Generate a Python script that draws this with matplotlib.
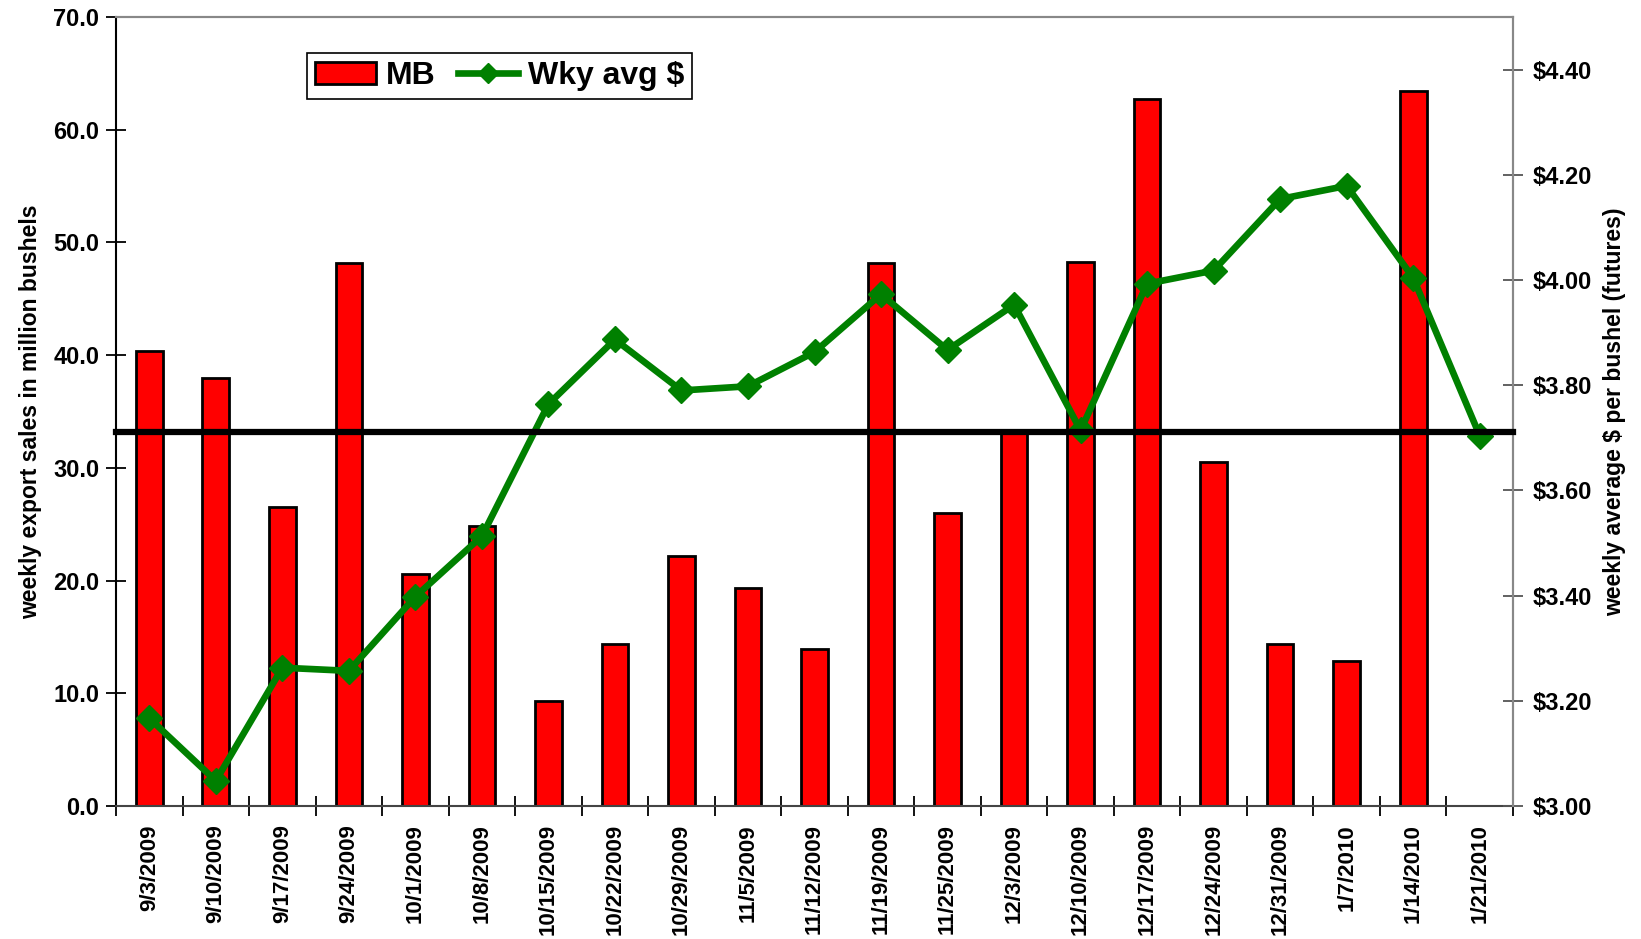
import numpy as np
import matplotlib
matplotlib.use("Agg")
import matplotlib.pyplot as plt
import matplotlib.transforms as mtransforms
from matplotlib.ticker import FormatStrFormatter, FixedLocator

plt.rcParams['font.family'] = ['Liberation Sans', 'DejaVu Sans']
plt.rcParams['font.weight'] = 'bold'

# Semanas (eje x)
weeks = ['9/3/2009', '9/10/2009', '9/17/2009', '9/24/2009', '10/1/2009', '10/8/2009',
         '10/15/2009', '10/22/2009', '10/29/2009', '11/5/2009', '11/12/2009', '11/19/2009',
         '11/25/2009', '12/3/2009', '12/10/2009', '12/17/2009', '12/24/2009', '12/31/2009',
         '1/7/2010', '1/14/2010', '1/21/2010']

# Ventas semanales de exportación (millones de bushels)
mb = [40.4, 38.0, 26.5, 48.2, 20.6, 24.8, 9.3, 14.4, 22.2, 19.3, 13.9, 48.2,
      26.0, 33.3, 48.3, 62.7, 30.5, 14.4, 12.9, 63.4, 0.0]

# Precio medio semanal ($ por bushel)
wky_avg = [3.167, 3.048, 3.263, 3.257, 3.398, 3.513, 3.764, 3.887, 3.790, 3.798, 3.863,
           3.973, 3.867, 3.953, 3.714, 3.993, 4.018, 4.154, 4.179, 4.004, 3.704]

# Línea horizontal de referencia (eje izquierdo)
mb_ref = 33.2

left_ticks = [0, 10, 20, 30, 40, 50, 60, 70]
right_ticks = [3.0, 3.2, 3.4, 3.6, 3.8, 4.0, 4.2, 4.4]

fig = plt.figure(figsize=(16.41, 9.39), dpi=100)
ax = fig.add_axes([0.0707, 0.1416, 0.8513, 0.8403])
ax2 = ax.twinx()

x = np.arange(len(weeks))
bars = ax.bar(x, mb, width=0.40, color='#ff0000', edgecolor='black', linewidth=2,
              label='MB', zorder=2)

line, = ax2.plot(x, wky_avg, color='#008000', linewidth=4.8, marker='D',
                 markersize=13, label='Wky avg $', zorder=3)

# línea negra horizontal sobre todo
trans = mtransforms.blended_transform_factory(ax2.transAxes, ax.transData)
ax2.plot([0, 1], [mb_ref, mb_ref], transform=trans, color='black', linewidth=4.5,
         zorder=5, clip_on=False)

ax.set_xlim(-0.5, len(weeks) - 0.5)
ax.set_ylim(0, 70)
ax2.set_ylim(3.0, 4.5)

ax.set_yticks(left_ticks)
ax.yaxis.set_major_formatter(FormatStrFormatter('%.1f'))
ax2.set_yticks(right_ticks)
ax2.set_yticklabels([f'${v:.2f}' for v in right_ticks])

ax.set_xticks(x)
ax.set_xticklabels(weeks, rotation=90, fontsize=16, fontweight='bold')
ax.xaxis.set_minor_locator(FixedLocator(np.arange(-0.5, len(weeks), 1.0)))
ax.tick_params(axis='x', which='major', length=0, pad=13)
ax.tick_params(axis='x', which='minor', length=14, width=1.3, direction='inout')

ax.tick_params(axis='y', which='major', labelsize=17, length=14, width=1.3,
               direction='inout', pad=5)
ax2.tick_params(axis='y', which='major', labelsize=17, length=14, width=1.3,
                direction='inout', pad=7, colors='#555555', labelcolor='black')

for lab in ax.get_yticklabels() + ax2.get_yticklabels():
    lab.set_fontweight('bold')

ax.set_ylabel('weekly export sales in million bushels', fontsize=16.5,
              fontweight='bold', labelpad=8)
ax2.set_ylabel('weekly average $ per bushel (futures)', fontsize=16.5,
               fontweight='bold', labelpad=8)

ax.spines['left'].set_color('black')
ax.spines['left'].set_linewidth(1.5)
ax.spines['bottom'].set_color('#444444')
ax.spines['bottom'].set_linewidth(1.5)
for s in ['top', 'right']:
    ax.spines[s].set_color('#888888')
    ax.spines[s].set_linewidth(1.5)
    ax2.spines[s].set_color('#888888')
    ax2.spines[s].set_linewidth(1.5)
ax2.spines['left'].set_visible(False)
ax2.spines['bottom'].set_visible(False)

leg = ax2.legend([bars, line], ['MB', 'Wky avg $'], loc='upper left',
                 bbox_to_anchor=(0.137, 0.954), ncol=2,
                 prop={'weight': 'bold', 'size': 23}, fancybox=False,
                 edgecolor='black', framealpha=1, borderpad=0.25,
                 handlelength=1.9, handletextpad=0.3, columnspacing=0.7,
                 borderaxespad=0, markerscale=0.8)
leg.get_frame().set_linewidth(1.2)

fig.savefig('out.png', dpi=100)
